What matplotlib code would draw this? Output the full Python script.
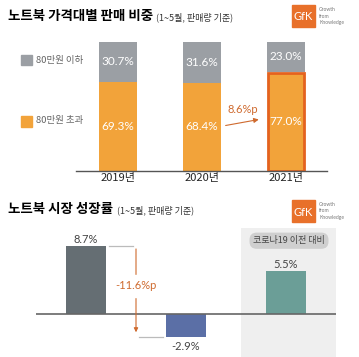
import matplotlib.pyplot as plt
from matplotlib.patches import Rectangle

years = ['2019년', '2020년', '2021년']
share_under80 = [30.7, 31.6, 23.0]
share_over80 = [69.3, 68.4, 77.0]
share_gap = 8.6
growth = [8.7, -2.9, 5.5]
growth_gap = -11.6

KR = ['Noto Sans CJK KR', 'DejaVu Sans']
NUM = ['Lato', 'Noto Sans CJK KR', 'DejaVu Sans']
plt.rcParams['font.family'] = KR

W, H = 359, 357
GRAY = '#9b9fa4'
ORANGE = '#f2a33a'
BORDER = '#e4621f'
ANNO = '#cf6a2e'

fig = plt.figure(figsize=(W / 100, H / 100), dpi=100)


def px_axes(x0, y0, x1, y1):
    return fig.add_axes([x0 / W, 1 - y1 / H, (x1 - x0) / W, (y1 - y0) / H])


def ftext(x, y, s, **kw):
    fig.text(x / W, 1 - y / H, s, **kw)


def logo(x, y):
    fig.add_artist(Rectangle((x / W, 1 - (y + 22) / H), 23 / W, 22 / H,
                             transform=fig.transFigure, color='#e8702a'))
    ftext(x + 11.5, y + 12, 'GfK', color='white', fontsize=8, ha='center', va='center',
          family=NUM)
    ftext(x + 27, y + 11, 'Growth\nfrom\nKnowledge', color='#777777', fontsize=3.6,
          va='center', linespacing=1.3, family=NUM)


# ---- 상단: 가격대별 판매 비중
ftext(8, 16, '노트북 가격대별 판매 비중', fontsize=9.7, fontweight='bold', va='center')
ftext(156, 17, '(1~5월, 판매량 기준)', fontsize=6.5, color='#333333', va='center')
logo(292, 5)

ax = px_axes(76, 42, 327, 171)
x = range(len(years))
ax.bar(x[:2], share_over80[:2], width=0.45, color=ORANGE)
ax.bar(x[2], share_over80[2] - 1.2, width=0.43, color=ORANGE, edgecolor=BORDER, linewidth=2)
ax.bar(x, share_under80, bottom=share_over80, width=0.45, color=GRAY)
for i in x:
    ax.text(i, share_over80[i] / 2, f'{share_over80[i]:.1f}%', color='white', fontsize=8.5,
            ha='center', va='center', family=NUM)
    ax.text(i, share_over80[i] + share_under80[i] / 2, f'{share_under80[i]:.1f}%',
            color='white', fontsize=8.5, ha='center', va='center', family=NUM)
ax.annotate('', xy=(1.71, 40.3), xytext=(1.25, 34.9),
            arrowprops=dict(arrowstyle='-|>', color=ANNO, lw=0.8, mutation_scale=7))
ax.text(1.49, 47.5, f'{share_gap}%p', color=ANNO, fontsize=8, ha='center', va='center',
        family=NUM)
ax.set_xlim(-0.5, 2.49)
ax.set_ylim(0, 100)
ax.set_yticks([])
ax.set_xticks(list(x))
ax.set_xticklabels(years, fontsize=8, color='#222222')
ax.tick_params(axis='x', length=0, pad=1.5)
for s in ['top', 'left', 'right']:
    ax.spines[s].set_visible(False)
ax.spines['bottom'].set_color('#555555')
ax.spines['bottom'].set_linewidth(1)

# legend
fig.add_artist(Rectangle((21 / W, 1 - 65 / H), 11 / W, 10 / H, transform=fig.transFigure,
                         color=GRAY))
fig.add_artist(Rectangle((21 / W, 1 - 127 / H), 11 / W, 11 / H, transform=fig.transFigure,
                         color=ORANGE))
ftext(36, 60, '80만원 이하', fontsize=6.8, color='#666666', va='center')
ftext(36, 121, '80만원 초과', fontsize=6.8, color='#666666', va='center')

# ---- 하단: 시장 성장률
ftext(8, 209, '노트북 시장 성장률', fontsize=9.7, fontweight='bold', va='center')
ftext(117, 210, '(1~5월, 판매량 기준)', fontsize=6.5, color='#333333', va='center')
logo(292, 200)

bx = px_axes(36, 228, 336, 357)
bx.axvspan(1.55, 2.5, color='#efefef', lw=0)
bx.bar(range(len(growth)), growth, width=0.4, color=['#656e73', '#5b6fa6', '#6b9e97'])
bx.axhline(0, color='#666666', lw=1.2)
for i, v in enumerate(growth):
    off = 0.9 if v > 0 else -1.3
    bx.text(i, v + off, f'{v:.1f}%', fontsize=8, color='#444444', ha='center',
            va='center', family=NUM)
bx.plot([0.23, 0.47], [growth[0], growth[0]], color='#bbbbbb', lw=0.9)
bx.plot([0.53, 0.77], [growth[1], growth[1]], color='#bbbbbb', lw=0.9)
bx.annotate('', xy=(0.5, growth[1] + 0.2), xytext=(0.5, growth[0]),
            arrowprops=dict(arrowstyle='-|>', color=ANNO, lw=0.8, mutation_scale=6))
bx.text(0.5, 3.6, f'{growth_gap}%p', fontsize=8, color=ANNO, ha='center', va='center',
        family=NUM, backgroundcolor='white')
bx.text(2.03, 9.4, '코로나19 이전 대비', fontsize=6.5, color='#444444', ha='center',
        va='center', bbox=dict(boxstyle='round,pad=0.4,rounding_size=0.8',
                               fc='#cfcfcf', ec='none'))
bx.set_xlim(-0.5, 2.5)
bx.set_ylim(-5.51, 11.03)
bx.axis('off')

fig.savefig('out.png', dpi=100)
